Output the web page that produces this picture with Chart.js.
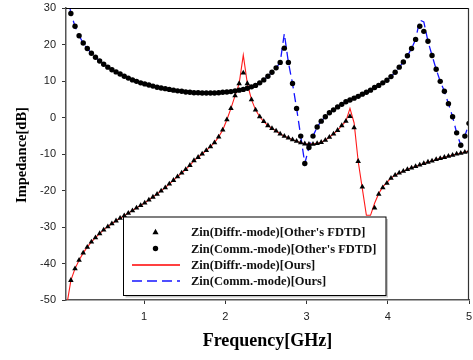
<!DOCTYPE html>
<html>
<head>
<meta charset="utf-8">
<script src="https://cdn.jsdelivr.net/npm/chart.js@4.4.1/dist/chart.umd.min.js"></script>
<style>
html,body{margin:0;padding:0;background:#fff;}
#wrap{width:473px;height:360px;position:relative;}
</style>
</head>
<body>
<div id="wrap"><canvas id="c" width="473" height="360"></canvas></div>
<script>
// Frequency points of the FDTD samples (GHz)
const freq = [0.100,0.151,0.201,0.252,0.302,0.353,0.403,0.454,0.504,0.555,
0.605,0.656,0.706,0.757,0.807,0.858,0.908,0.959,1.009,1.060,
1.110,1.161,1.211,1.262,1.312,1.363,1.413,1.464,1.514,1.565,
1.615,1.666,1.716,1.767,1.818,1.868,1.919,1.969,2.020,2.070,
2.121,2.171,2.222,2.272,2.323,2.373,2.424,2.474,2.525,2.575,
2.626,2.676,2.727,2.777,2.828,2.878,2.929,2.979,3.030,3.080,
3.131,3.181,3.232,3.282,3.333,3.383,3.434,3.485,3.535,3.586,
3.636,3.687,3.737,3.788,3.838,3.889,3.939,3.990,4.040,4.091,
4.141,4.192,4.242,4.293,4.343,4.394,4.444,4.495,4.545,4.596,
4.646,4.697,4.747,4.798,4.848,4.899,4.949,5.000];

// Zin(Diffr.-mode) [Other's FDTD] (dB)
const diffFdtd = [-44.6,-41.4,-39.1,-37.1,-35.5,-34.1,-32.9,-31.8,-30.8,-29.9,
-29.1,-28.3,-27.6,-26.9,-26.2,-25.5,-24.8,-24.1,-23.4,-22.6,
-21.8,-21.0,-20.1,-19.2,-18.2,-17.2,-16.2,-15.2,-14.2,-13.1,
-11.8,-10.9,-10.0,-9.0,-8.0,-6.9,-5.3,-3.4,-0.6,2.5,
6.0,9.3,12.2,9.3,4.9,2.1,0.2,-1.1,-2.2,-3.0,
-3.7,-4.5,-5.1,-5.6,-6.1,-6.5,-6.9,-7.2,-7.3,-7.3,
-7.1,-6.8,-6.2,-5.4,-4.5,-3.5,-2.2,-1.0,0.3,-2.8,
-12.0,-19.0,-31.0,-30.0,-24.8,-21.0,-19.2,-18.0,-16.6,-15.8,
-15.2,-14.7,-14.2,-13.8,-13.4,-13.0,-12.6,-12.2,-11.9,-11.5,
-11.2,-10.9,-10.6,-10.3,-10.0,-9.8,-9.5,-9.2];

// Zin(Comm.-mode) [Other's FDTD] (dB)
const commFdtd = [28.5,25.0,22.4,20.4,18.9,17.6,16.5,15.5,14.6,13.8,
13.1,12.5,11.9,11.3,10.8,10.3,9.9,9.5,9.2,8.9,
8.6,8.3,8.1,7.9,7.7,7.5,7.3,7.2,7.0,6.9,
6.8,6.8,6.7,6.7,6.7,6.7,6.8,6.9,7.0,7.1,
7.3,7.5,7.7,8.0,8.4,8.8,9.5,10.3,11.3,12.4,
13.6,15.1,19.0,15.1,9.3,2.5,-5.1,-12.6,-8.2,-5.1,
-2.6,-1.0,0.2,1.3,2.1,2.9,3.6,4.3,4.8,5.3,
5.8,6.4,6.9,7.5,8.2,8.8,9.5,10.2,11.2,12.4,
13.8,15.2,16.9,18.9,21.4,25.0,23.6,20.9,17.0,13.2,
9.9,7.2,3.8,0.2,-4.2,-7.6,-5.1,-1.6];

// Frequency points of "Ours" curves (GHz)
const freqOurs = [0.060].concat(freq);

// Zin(Diffr.-mode) [Ours] (dB)
const diffOurs = [-50.0,-44.6,-41.4,-39.1,-37.1,-35.5,-34.1,-32.9,-31.8,-30.8,-29.9,
-29.1,-28.3,-27.6,-26.9,-26.2,-25.5,-24.8,-24.1,-23.4,-22.6,
-21.8,-21.0,-20.1,-19.2,-18.2,-17.2,-16.2,-15.2,-14.2,-13.1,
-11.8,-10.9,-10.0,-9.0,-8.0,-6.9,-5.3,-3.4,-0.6,2.5,
6.0,9.3,17.1,9.3,4.9,2.1,0.2,-1.1,-2.2,-3.0,
-3.7,-4.5,-5.1,-5.6,-6.1,-6.5,-6.9,-7.2,-7.3,-7.3,
-7.1,-6.8,-6.2,-5.4,-4.5,-3.5,-2.2,-1.0,2.5,-1.5,
-12.0,-19.5,-26.8,-26.8,-23.5,-20.8,-19.0,-17.8,-16.6,-15.8,
-15.2,-14.7,-14.2,-13.8,-13.4,-13.0,-12.6,-12.2,-11.9,-11.5,
-11.2,-10.9,-10.6,-10.3,-10.0,-9.8,-9.5,-9.2];

// Zin(Comm.-mode) [Ours] (dB)
const commOurs = [34.0,28.5,25.0,22.4,20.4,18.9,17.6,16.5,15.5,14.6,13.8,
13.1,12.5,11.9,11.3,10.8,10.3,9.9,9.5,9.2,8.9,
8.6,8.3,8.1,7.9,7.7,7.5,7.3,7.2,7.0,6.9,
6.8,6.8,6.7,6.7,6.7,6.7,6.8,6.9,7.0,7.1,
7.3,7.5,7.7,8.0,8.4,8.8,9.5,10.3,11.3,12.4,
13.6,15.1,23.0,15.1,9.3,2.5,-5.1,-12.6,-8.2,-5.1,
-2.6,-1.0,0.2,1.3,2.1,2.9,3.6,4.3,4.8,5.3,
5.8,6.4,6.9,7.5,8.2,8.8,9.5,10.2,11.2,12.4,
13.8,15.2,16.9,18.9,21.4,26.7,26.2,20.9,17.0,13.2,
9.9,7.2,3.8,0.2,-4.2,-7.6,-5.1,-1.6];

const xTicks = [1, 2, 3, 4, 5];
const yTicks = [-50, -40, -30, -20, -10, 0, 10, 20, 30];
const seriesLabels = [
  "Zin(Diffr.-mode)[Other's FDTD]",
  "Zin(Comm.-mode)[Other's FDTD]",
  "Zin(Diffr.-mode)[Ours]",
  "Zin(Comm.-mode)[Ours]"
];
const xTitle = "Frequency[GHz]";
const yTitle = "Impedance[dB]";

function pts(xs, ys) { return xs.map((x, i) => ({x: x, y: ys[i]})); }

const SERIF = '"Liberation Serif", "Times New Roman", serif';
const SANS = '"Liberation Sans", Arial, sans-serif';
const RED = '#ff1a1a';
const BLUE = '#1414ff';

const decor = {
  id: 'decor',
  afterDraw(chart) {
    const ctx = chart.ctx;
    const a = chart.chartArea;
    const xs = chart.scales.x, ys = chart.scales.y;
    ctx.save();
    // top and right frame
    ctx.strokeStyle = '#000';
    ctx.lineWidth = 1;
    ctx.beginPath();
    ctx.moveTo(a.left, a.top + 0.5);
    ctx.lineTo(a.right, a.top + 0.5);
    ctx.stroke();
    ctx.strokeStyle = '#333';
    ctx.lineWidth = 1.2;
    ctx.beginPath();
    ctx.moveTo(a.right - 0.5, a.top);
    ctx.lineTo(a.right - 0.5, a.bottom);
    ctx.stroke();

    // tick labels
    ctx.fillStyle = '#222';
    ctx.font = '11px ' + SANS;
    ctx.textBaseline = 'middle';
    ctx.textAlign = 'right';
    yTicks.forEach(v => ctx.fillText(String(v), a.left - 10, ys.getPixelForValue(v)));
    ctx.textAlign = 'center';
    xTicks.forEach(v => ctx.fillText(String(v), xs.getPixelForValue(v), a.bottom + 17));

    // axis titles
    ctx.fillStyle = '#000';
    ctx.font = 'bold 18px ' + SERIF;
    ctx.textAlign = 'center';
    ctx.textBaseline = 'middle';
    ctx.fillText(xTitle, (a.left + a.right) / 2, 341);
    ctx.save();
    ctx.translate(22, 155);
    ctx.rotate(-Math.PI / 2);
    ctx.font = 'bold 14.5px ' + SERIF;
    ctx.fillText(yTitle, 0, 0);
    ctx.restore();

    // legend box
    const bx = 123.5, by = 217, bw = 262.5, bh = 78.5;
    ctx.fillStyle = '#c8c8c8';
    ctx.fillRect(bx + 2, by + 2, bw, bh);
    ctx.fillStyle = '#fff';
    ctx.fillRect(bx, by, bw, bh);
    ctx.strokeStyle = '#000';
    ctx.lineWidth = 1;
    ctx.strokeRect(bx, by, bw, bh);
    const rows = [232, 248.5, 265, 280.5];
    const kinds = ['tri', 'dot', 'red', 'blue'];
    ctx.font = 'bold 12.5px ' + SERIF;
    ctx.textAlign = 'left';
    ctx.textBaseline = 'middle';
    rows.forEach((ry, i) => {
      const k = kinds[i];
      if (k === 'red' || k === 'blue') {
        ctx.strokeStyle = k === 'red' ? '#ff0000' : BLUE;
        ctx.lineWidth = 1.5;
        ctx.setLineDash(k === 'blue' ? [10, 5] : []);
        ctx.beginPath();
        ctx.moveTo(132, Math.round(ry));
        ctx.lineTo(180, Math.round(ry));
        ctx.stroke();
        ctx.setLineDash([]);
      } else {
        ctx.fillStyle = '#000';
        ctx.beginPath();
        if (k === 'tri') {
          ctx.moveTo(155.5, ry - 3.3);
          ctx.lineTo(158.6, ry + 2.2);
          ctx.lineTo(152.4, ry + 2.2);
          ctx.closePath();
        } else {
          ctx.arc(155.5, ry, 2.7, 0, Math.PI * 2);
        }
        ctx.fill();
      }
      ctx.fillStyle = '#111';
      ctx.fillText(chart.data.datasets[i].label, 191, ry + 1);
    });
    ctx.restore();
  }
};

new Chart(document.getElementById('c'), {
  type: 'scatter',
  data: {
    datasets: [
      {
        label: seriesLabels[0],
        data: pts(freq, diffFdtd),
        showLine: false,
        pointStyle: 'triangle',
        pointRadius: 3.2,
        pointBackgroundColor: '#000',
        pointBorderColor: '#000',
        pointBorderWidth: 0,
        order: 0
      },
      {
        label: seriesLabels[1],
        data: pts(freq, commFdtd),
        showLine: false,
        pointStyle: 'circle',
        pointRadius: 2.7,
        pointBackgroundColor: '#000',
        pointBorderColor: '#000',
        pointBorderWidth: 0,
        order: 0
      },
      {
        label: seriesLabels[2],
        data: pts(freqOurs, diffOurs),
        showLine: true,
        borderColor: RED,
        borderWidth: 1.1,
        pointRadius: 0,
        tension: 0,
        order: 1
      },
      {
        label: seriesLabels[3],
        data: pts(freqOurs, commOurs),
        showLine: true,
        borderColor: BLUE,
        borderWidth: 1.3,
        borderDash: [9, 5],
        pointRadius: 0,
        tension: 0,
        order: 1
      }
    ]
  },
  options: {
    responsive: false,
    animation: false,
    events: [],
    layout: { padding: { top: 8, right: 2, left: 0, bottom: 0 } },
    plugins: {
      legend: { display: false },
      tooltip: { enabled: false },
      title: { display: false }
    },
    scales: {
      x: {
        type: 'linear',
        min: 0.04,
        max: 5,
        afterBuildTicks: (s) => { s.ticks = xTicks.map(v => ({ value: v })); },
        afterFit: (s) => { s.height = 60; },
        grid: { drawOnChartArea: false, drawTicks: true, tickLength: 4, color: '#333', lineWidth: 1 },
        border: { display: true, color: '#555', width: 1.5 },
        ticks: { display: false }
      },
      y: {
        type: 'linear',
        min: -50,
        max: 30,
        afterBuildTicks: (s) => { s.ticks = yTicks.map(v => ({ value: v })); },
        afterFit: (s) => { s.width = 66; },
        grid: { drawOnChartArea: false, drawTicks: true, tickLength: 4, color: '#333', lineWidth: 1 },
        border: { display: true, color: '#555', width: 1.5 },
        ticks: { display: false }
      }
    }
  },
  plugins: [decor]
});
</script>
</body>
</html>
